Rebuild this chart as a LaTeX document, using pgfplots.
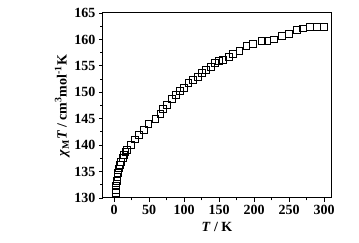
\documentclass[border=0pt]{standalone}
\usepackage{pgfplots}
\pgfplotsset{compat=1.18}
\usepackage{fontspec}
\setmainfont{Liberation Serif}

\pgfplotstableread{
T chiT
2 130.9
2.5 131.6
3 132.4
3.5 133.2
4.5 134.0
5.5 134.8
7 135.6
8.5 136.2
10 136.9
12 137.6
14 138.2
16 138.7
18 139.1
24 140.0
30 141.1
35.5 141.9
43 142.9
49 144.0
59 144.9
66 145.9
70 146.8
75 147.6
82 148.7
88 149.5
94 150.3
100 150.9
106 151.8
113 152.3
120 152.9
125 153.6
131 154.2
138 154.8
144 155.5
150 156.0
156 156.2
164 156.7
170 157.2
179 157.8
189 158.7
198 159.1
211 159.7
219 159.7
228 160.0
240 160.6
250 161.1
261 161.8
270 162.1
280 162.3
290 162.3
300 162.3
}\chidata

\begin{document}
\begin{tikzpicture}
\begin{axis}[
    scale only axis,
    width=228pt, height=185pt,
    xmin=-16, xmax=310,
    ymin=130, ymax=165,
    xtick={0,50,...,300},
    ytick={130,135,...,165},
    minor x tick num=1,
    minor y tick num=1,
    tick align=outside,
    xtick pos=bottom, ytick pos=left,
    major tick length=4pt,
    minor tick length=2.5pt,
    every tick/.style={black, line width=0.9pt},
    axis line style={line width=1pt},
    tick label style={font=\fontsize{14}{14}\selectfont\bfseries},
    /pgf/number format/assume math mode=true,
    xlabel={\textbf{\textit{T} / K}},
    ylabel={\bfseries{\itshape χ}\textsubscript{M}{\itshape T} / cm\textsuperscript{3}mol\textsuperscript{-1}K},
    label style={font=\fontsize{14}{14}\selectfont},
    ylabel style={yshift=-2pt},
]
\addplot[only marks, mark=square, mark size=3.4pt, mark options={line width=0.8pt, black}] table[x=T, y=chiT] {\chidata};
\end{axis}
\path (current axis.south west) ++(-103pt,-45pt) coordinate (bl);
\path (current axis.north east) ++(28pt,13pt) coordinate (tr);
\path (bl) rectangle (tr);
\end{tikzpicture}
\end{document}
